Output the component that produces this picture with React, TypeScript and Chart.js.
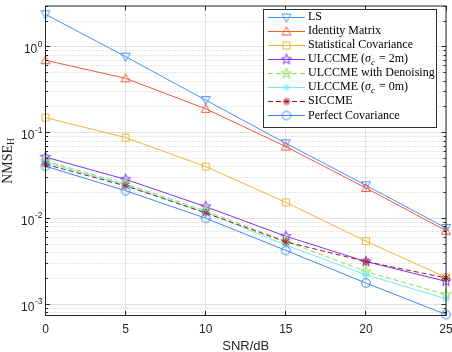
import React, { useEffect, useRef } from 'react';
import { Chart, registerables } from 'chart.js';

Chart.register(...registerables);

// ---------- data ----------
const snrDb = [0, 5, 10, 15, 20, 25];
const lsValues = [2.4, 0.77, 0.24, 0.0753, 0.0244, 0.00774];
const identityValues = [0.7, 0.43, 0.19, 0.069, 0.0227, 0.00722];
const statCovValues = [0.15, 0.0877, 0.0403, 0.0154, 0.00544, 0.00206];
const ulccme2mValues = [0.052, 0.0286, 0.01374, 0.0062, 0.00315, 0.00185];
const denoiseValues = [0.0468, 0.0253, 0.01225, 0.00544, 0.00241, 0.0013];
const ulccme0mValues = [0.0452, 0.0244, 0.0118, 0.0049, 0.00221, 0.00116];
const siccmeValues = [0.0429, 0.024, 0.0116, 0.00534, 0.00315, 0.00203];
const perfectValues = [0.0407, 0.0211, 0.01008, 0.00425, 0.00177, 0.00076];

const seriesLabels = [
  'LS',
  'Identity Matrix',
  'Statistical Covariance',
  'ULCCME (σ_c = 2m)',
  'ULCCME with Denoising',
  'ULCCME (σ_c = 0m)',
  'SICCME',
  'Perfect Covariance',
];
const seriesValues = [
  lsValues,
  identityValues,
  statCovValues,
  ulccme2mValues,
  denoiseValues,
  ulccme0mValues,
  siccmeValues,
  perfectValues,
];
const xTickValues = [0, 5, 10, 15, 20, 25];
const yTickExponents = [0, -1, -2, -3];
const xTitle = 'SNR/dB';
const yTitleMain = 'NMSE';
const yTitleSub = 'H';

// ---------- styles ----------
const seriesColors = ['#4592f7', '#ef5a3e', '#f0b430', '#7c34f5', '#86e24a', '#6cecf7', '#a3171c', '#3d88f0'];
const seriesMarkers = ['tri-down', 'tri-up', 'square', 'pentagram', 'pentagram', 'asterisk', 'asterisk', 'circle'];
const seriesDashed = [false, false, false, false, true, false, true, false];

const AXIS_COLOR = '#262626';
const SANS = 'Arial, "Liberation Sans", Helvetica, sans-serif';
const SERIF = '"Liberation Serif", "Times New Roman", serif';

function makeMarker(kind: string, color: string): HTMLCanvasElement {
  const S = 14;
  const c = document.createElement('canvas');
  c.width = S;
  c.height = S;
  const ctx = c.getContext('2d')!;
  const m = S / 2;
  ctx.strokeStyle = color;
  ctx.lineWidth = 1;
  ctx.beginPath();
  switch (kind) {
    case 'tri-down':
      ctx.moveTo(m - 4.5, m - 3.5);
      ctx.lineTo(m + 4.5, m - 3.5);
      ctx.lineTo(m, m + 4.5);
      ctx.closePath();
      break;
    case 'tri-up':
      ctx.moveTo(m - 4.5, m + 3.5);
      ctx.lineTo(m + 4.5, m + 3.5);
      ctx.lineTo(m, m - 4.5);
      ctx.closePath();
      break;
    case 'square':
      ctx.rect(m - 3.5, m - 3.5, 7, 7);
      break;
    case 'circle':
      ctx.arc(m, m, 4.3, 0, Math.PI * 2);
      break;
    case 'pentagram':
      for (let i = 0; i < 10; i++) {
        const a = -Math.PI / 2 + (i * Math.PI) / 5;
        const r = i % 2 === 0 ? 5.4 : 2.2;
        const px = m + r * Math.cos(a);
        const py = m + r * Math.sin(a);
        if (i === 0) ctx.moveTo(px, py);
        else ctx.lineTo(px, py);
      }
      ctx.closePath();
      break;
    case 'asterisk': {
      const r = 4;
      const d = r * 0.72;
      ctx.moveTo(m - r, m);
      ctx.lineTo(m + r, m);
      ctx.moveTo(m, m - r);
      ctx.lineTo(m, m + r);
      ctx.moveTo(m - d, m - d);
      ctx.lineTo(m + d, m + d);
      ctx.moveTo(m - d, m + d);
      ctx.lineTo(m + d, m - d);
      break;
    }
  }
  ctx.stroke();
  return c;
}

function drawRich(ctx: CanvasRenderingContext2D, text: string, x: number, y: number, size: number) {
  // renders "_c" as a subscript, σ and subscript in italic
  let cx = x;
  let i = 0;
  while (i < text.length) {
    const ch = text[i];
    if (ch === '_' && i + 1 < text.length) {
      ctx.font = `italic ${Math.round(size * 0.72)}px ${SERIF}`;
      ctx.fillText(text[i + 1], cx, y + size * 0.25);
      cx += ctx.measureText(text[i + 1]).width + 1;
      i += 2;
      continue;
    }
    ctx.font = ch === 'σ' ? `italic ${size}px ${SERIF}` : `${size}px ${SERIF}`;
    ctx.fillText(ch, cx, y);
    cx += ctx.measureText(ch).width;
    i += 1;
  }
}

export default function App() {
  const ref = useRef<HTMLCanvasElement>(null);

  useEffect(() => {
    document.body.style.margin = '0';
    const markers = seriesMarkers.map((k, i) => makeMarker(k, seriesColors[i]));

    const datasets = seriesValues.map((vals, i) => ({
      label: seriesLabels[i],
      data: snrDb.map((x, j) => ({ x, y: vals[j] })),
      borderColor: seriesColors[i],
      backgroundColor: seriesColors[i],
      borderWidth: 1,
      borderDash: seriesDashed[i] ? [5, 3] : [],
      pointStyle: markers[i] as any,
      pointRadius: 5,
      pointHoverRadius: 5,
      tension: 0,
      fill: false,
      clip: false as any,
      order: seriesValues.length - i,
    }));

    const matlabAxes = {
      id: 'matlabAxes',
      beforeDatasetsDraw(chart: any) {
        const { ctx, chartArea } = chart;
        const { left, right, top, bottom } = chartArea;
        const xs = chart.scales.x;
        const ys = chart.scales.y;
        ctx.save();
        ctx.lineWidth = 1;
        const hLine = (py: number) => {
          ctx.beginPath();
          ctx.moveTo(left, py);
          ctx.lineTo(right, py);
          ctx.stroke();
        };
        // minor y grid (dotted)
        ctx.strokeStyle = '#cfcfcf';
        ctx.setLineDash([1, 2]);
        for (let e = -4; e <= 1; e++) {
          for (let k = 2; k <= 9; k++) {
            const v = k * Math.pow(10, e);
            if (v < ys.min || v > ys.max) continue;
            hLine(Math.round(ys.getPixelForValue(v) - 0.5) + 0.5);
          }
        }
        // major grid
        ctx.setLineDash([]);
        ctx.strokeStyle = '#e0e0e0';
        yTickExponents.forEach((e) => {
          hLine(Math.round(ys.getPixelForValue(Math.pow(10, e)) - 0.5) + 0.5);
        });
        xTickValues.forEach((v) => {
          const px = Math.round(xs.getPixelForValue(v) - 0.5) + 0.5;
          ctx.beginPath();
          ctx.moveTo(px, top);
          ctx.lineTo(px, bottom);
          ctx.stroke();
        });
        ctx.restore();
      },
      afterDatasetsDraw(chart: any) {
        const { ctx, chartArea } = chart;
        const { left, right, top, bottom } = chartArea;
        const xs = chart.scales.x;
        const ys = chart.scales.y;
        ctx.save();
        ctx.lineWidth = 1;
        ctx.strokeStyle = AXIS_COLOR;
        ctx.setLineDash([]);
        // box
        ctx.strokeRect(left, top, right - left, bottom - top);
        // y ticks
        const seg = (x1: number, y1: number, x2: number, y2: number) => {
          ctx.beginPath();
          ctx.moveTo(x1, y1);
          ctx.lineTo(x2, y2);
          ctx.stroke();
        };
        for (let e = -4; e <= 1; e++) {
          for (let k = 1; k <= 9; k++) {
            const v = k * Math.pow(10, e);
            if (v < ys.min || v > ys.max) continue;
            const py = Math.round(ys.getPixelForValue(v) - 0.5) + 0.5;
            const len = k === 1 ? 4.5 : 2.5;
            seg(left, py, left + len, py);
            seg(right, py, right - len, py);
          }
        }
        xTickValues.forEach((v) => {
          const px = Math.round(xs.getPixelForValue(v) - 0.5) + 0.5;
          seg(px, bottom, px, bottom - 4.5);
          seg(px, top, px, top + 4.5);
        });

        // tick labels
        ctx.fillStyle = AXIS_COLOR;
        ctx.textBaseline = 'alphabetic';
        ctx.textAlign = 'center';
        ctx.font = `12px ${SANS}`;
        xTickValues.forEach((v) => {
          ctx.fillText(String(v), xs.getPixelForValue(v), 332.5);
        });
        ctx.textAlign = 'left';
        ctx.textBaseline = 'middle';
        yTickExponents.forEach((e) => {
          const py = ys.getPixelForValue(Math.pow(10, e));
          const sup = String(e);
          ctx.font = `8.5px ${SANS}`;
          const wSup = ctx.measureText(sup).width;
          ctx.font = `12px ${SANS}`;
          const wBase = ctx.measureText('10').width;
          const rightEdge = left - 3.5;
          const bx = rightEdge - wSup - wBase;
          ctx.fillText('10', bx, py + 3);
          ctx.font = `8.5px ${SANS}`;
          ctx.fillText(sup, bx + wBase + 0.5, py - 2.5);
        });

        // x title
        ctx.textAlign = 'center';
        ctx.textBaseline = 'alphabetic';
        ctx.font = `13px ${SANS}`;
        ctx.fillText(xTitle, (left + right) / 2, 349.5);

        // y title with subscript
        ctx.save();
        ctx.translate(8, (top + bottom) / 2);
        ctx.rotate(-Math.PI / 2);
        ctx.textAlign = 'left';
        ctx.textBaseline = 'middle';
        ctx.font = `14px ${SERIF}`;
        const w1 = ctx.measureText(yTitleMain).width;
        ctx.font = `10px ${SERIF}`;
        const w2 = ctx.measureText(yTitleSub).width;
        const sx = -(w1 + w2) / 2;
        ctx.font = `14px ${SERIF}`;
        ctx.fillText(yTitleMain, sx, 0);
        ctx.font = `10px ${SERIF}`;
        ctx.fillText(yTitleSub, sx + w1, 3.5);
        ctx.restore();

        // legend
        const lx = 263.5, ly = 9.5, lw = 173, lh = 118;
        ctx.fillStyle = '#ffffff';
        ctx.fillRect(lx, ly, lw, lh);
        ctx.strokeStyle = '#303030';
        ctx.strokeRect(lx, ly, lw, lh);
        seriesLabels.forEach((label, i) => {
          const ry = 16.5 + i * 14.05;
          ctx.strokeStyle = seriesColors[i];
          ctx.lineWidth = 1;
          ctx.setLineDash(seriesDashed[i] ? [5, 3] : []);
          ctx.beginPath();
          ctx.moveTo(268, Math.round(ry) + 0.5);
          ctx.lineTo(305, Math.round(ry) + 0.5);
          ctx.stroke();
          ctx.setLineDash([]);
          const mk = markers[i];
          ctx.drawImage(mk, 286.5 - mk.width / 2, Math.round(ry) + 0.5 - mk.height / 2);
          ctx.fillStyle = '#000000';
          ctx.textAlign = 'left';
          ctx.textBaseline = 'middle';
          drawRich(ctx, label, 308, ry + 0.5, 12);
        });
        ctx.restore();
      },
    };

    const chart = new Chart(ref.current!, {
      type: 'line',
      data: { datasets: datasets as any },
      options: {
        responsive: false,
        animation: false,
        devicePixelRatio: 1,
        events: [],
        layout: { padding: { top: 1.5, right: 5.5, left: 0, bottom: 0 } },
        plugins: { legend: { display: false }, tooltip: { enabled: false } },
        scales: {
          x: {
            type: 'linear',
            min: 0,
            max: 25,
            grid: { display: false },
            border: { display: false },
            ticks: { display: false },
            afterFit: (s: any) => {
              s.height = 36.5;
            },
          },
          y: {
            type: 'logarithmic',
            min: 7.4e-4,
            max: 3,
            grid: { display: false },
            border: { display: false },
            ticks: { display: false },
            afterFit: (s: any) => {
              s.width = 45.5;
            },
          },
        },
      },
      plugins: [matlabAxes as any],
    });
    return () => chart.destroy();
  }, []);

  return (
    <div style={{ width: 452, height: 352 }}>
      <canvas ref={ref} width={452} height={352} style={{ display: 'block' }} />
    </div>
  );
}
